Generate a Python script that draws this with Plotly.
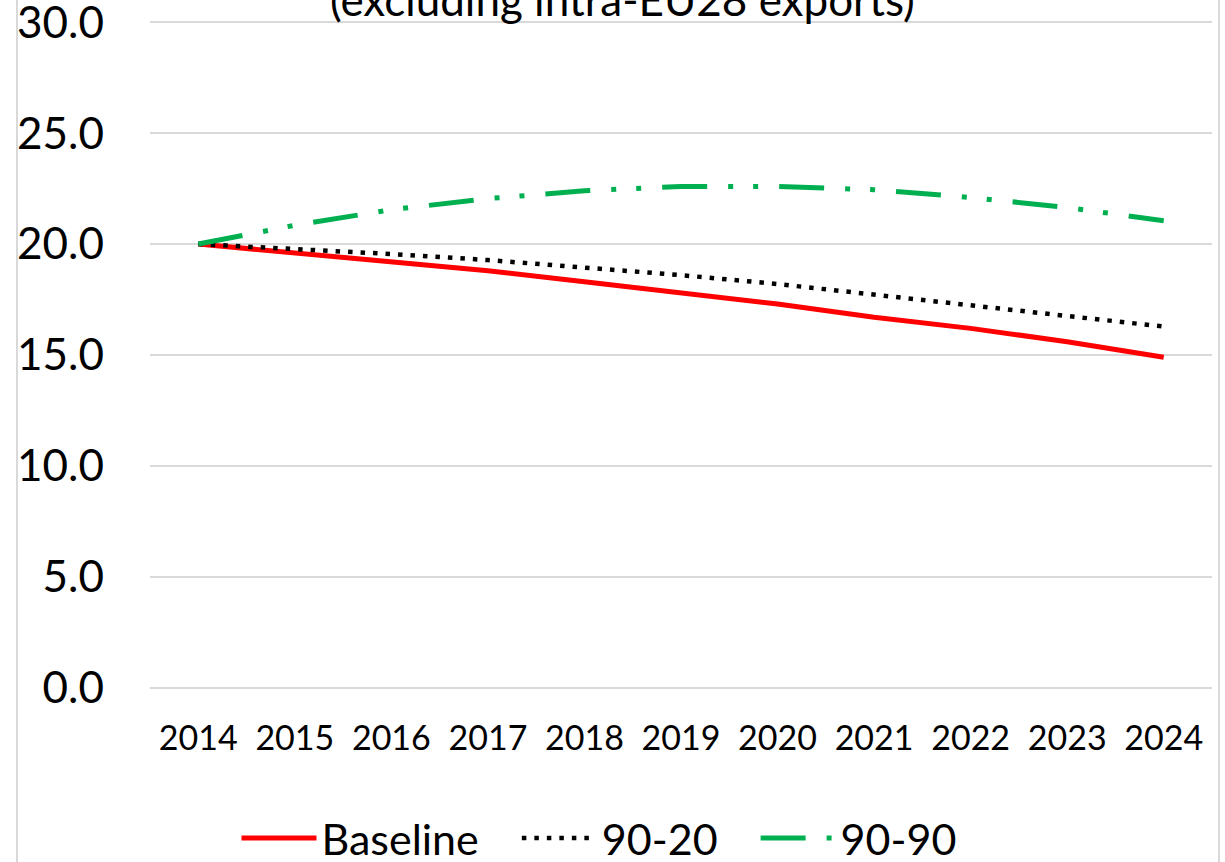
import plotly.graph_objects as go

years = ["2014", "2015", "2016", "2017", "2018", "2019", "2020", "2021", "2022", "2023", "2024"]
baseline = [20.0, 19.6, 19.2, 18.8, 18.3, 17.8, 17.3, 16.7, 16.2, 15.6, 14.9]
s90_20 = [20.0, 19.8, 19.55, 19.28, 18.96, 18.6, 18.2, 17.72, 17.25, 16.78, 16.28]
s90_90 = [20.0, 20.85, 21.55, 22.05, 22.4, 22.6, 22.6, 22.45, 22.1, 21.65, 21.05]
series_names = ["Baseline", "90-20", "90-90"]
y_ticks = [0, 5, 10, 15, 20, 25, 30]
title_text = "(excluding intra-EU28 exports)"

FONT = "Lato, 'Open Sans', sans-serif"
GAP = "\u00a0" * 3

fig = go.Figure()
fig.add_trace(go.Scatter(x=years, y=baseline, name=series_names[0] + GAP, mode="lines",
                         line=dict(color="#FF0000", width=5)))
fig.add_trace(go.Scatter(x=years, y=s90_20, name=series_names[1] + GAP, mode="lines",
                         line=dict(color="#000000", width=4.5, dash="4.5px,8px")))
fig.add_trace(go.Scatter(x=years, y=s90_90, name=series_names[2], mode="lines",
                         line=dict(color="#00B050", width=5, dash="45px,21px,5px,20px,5px,21px")))

L, R, T, B = 150, 1225 - 1212, 20, 862 - 690
W = 1225 - L - R
H = 862 - T - B

def px_x(p):
    return (p - L) / W

def px_y(p):
    return (862 - B - p) / H

fig.update_layout(
    width=1225, height=862,
    margin=dict(l=L, r=R, t=T, b=B, pad=0, autoexpand=False),
    paper_bgcolor="white", plot_bgcolor="white",
    font=dict(family=FONT, color="black", size=43),
    showlegend=True,
    legend=dict(orientation="h", x=px_x(599), xanchor="center", y=px_y(838), yanchor="middle",
                font=dict(size=43, family=FONT), itemwidth=75, tracegroupgap=0,
                bgcolor="rgba(0,0,0,0)"),
    xaxis=dict(type="category", range=[-0.5, 10.5], showgrid=False, zeroline=False,
               showline=False, ticks="", tickfont=dict(size=34, family=FONT),
               ticklabelstandoff=25, automargin=False, ticklabeloverflow="allow"),
    yaxis=dict(range=[-0.1, 30.1], tickvals=y_ticks, tickformat=".1f", showgrid=True,
               gridcolor="#D9D9D9", gridwidth=2, zeroline=False, showline=False, ticks="",
               tickfont=dict(size=44, family=FONT), ticklabelstandoff=45, automargin=False,
               ticklabeloverflow="allow"),
)

fig.add_annotation(text=title_text, xref="paper", yref="paper", x=px_x(622), y=px_y(-1),
                   xanchor="center", yanchor="middle", showarrow=False,
                   font=dict(size=44, family=FONT, color="black"))

for xp in (17, 1219):
    fig.add_shape(type="line", xref="paper", yref="paper", x0=px_x(xp), x1=px_x(xp),
                  y0=px_y(-5), y1=px_y(870), line=dict(color="#D9D9D9", width=2), layer="below")

fig.write_html("out.html", config={"displayModeBar": False},
               post_script="document.body.style.margin='0';document.body.style.overflow='hidden';")
